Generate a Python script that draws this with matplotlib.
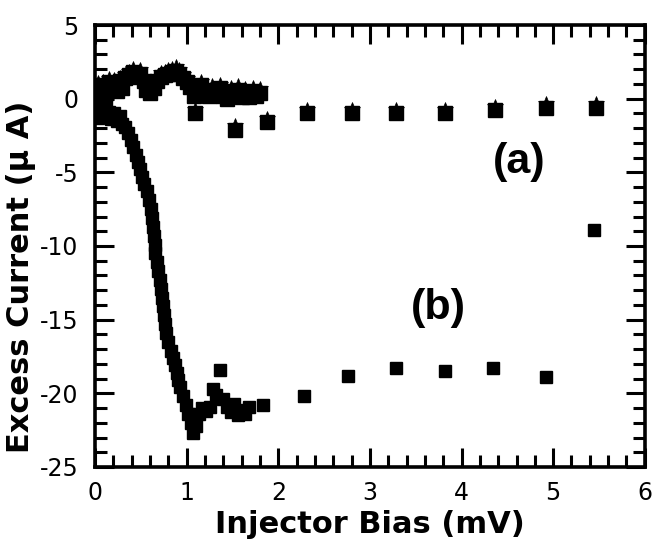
import matplotlib
matplotlib.use("Agg")
import matplotlib.pyplot as plt
import matplotlib.transforms as mtransforms
from matplotlib.ticker import MultipleLocator

plt.rcParams['axes.unicode_minus'] = False

# curve (a): squares with a star on top
a_x = [0.00, 0.00, 0.03, 0.06, 0.09, 0.12, 0.15, 0.18, 0.21, 0.24, 0.27, 0.30,
       0.33, 0.37, 0.41, 0.45, 0.49, 0.53, 0.56, 0.60, 0.64, 0.68, 0.72, 0.76,
       0.80, 0.84, 0.88, 0.92, 0.96, 1.00, 1.04, 1.08, 1.12, 1.16, 1.20, 1.24,
       1.28, 1.32, 1.36, 1.40, 1.44, 1.48, 1.52, 1.56, 1.60, 1.64, 1.68, 1.72,
       1.76, 1.80,
       1.09, 1.53, 1.88, 2.31, 2.80, 3.29, 3.82, 4.36, 4.92, 5.47]
a_y = [0.3, -0.6, 0.8, 0.1, 0.9, 0.4, 1.1, 0.6, 1.0, 0.5, 1.2, 0.7,
       1.4, 1.6, 1.8, 1.5, 1.7, 1.2, 0.6, 0.4, 0.7, 1.2, 1.5, 1.6,
       1.7, 1.8, 1.9, 1.7, 1.4, 1.1, 0.8, 0.2, 0.6, 0.9, 0.5, 0.2,
       0.6, 0.3, 0.7, 0.2, 0.0, 0.5, 0.2, 0.6, 0.1, 0.4, 0.1, 0.5,
       0.2, 0.4,
       -1.0, -2.1, -1.6, -1.0, -1.0, -1.0, -1.0, -0.8, -0.6, -0.6]

# curve (b): filled squares
b_x = [0.00, 0.03, 0.06, 0.09, 0.12, 0.15, 0.18, 0.21, 0.24, 0.27, 0.30, 0.33,
       0.36, 0.39, 0.42, 0.45, 0.47, 0.49, 0.51, 0.54, 0.57, 0.59, 0.61, 0.62,
       0.63, 0.64, 0.65, 0.66, 0.68, 0.69, 0.71, 0.72, 0.73, 0.74, 0.75, 0.76,
       0.78, 0.80, 0.83, 0.85, 0.87, 0.89, 0.91, 0.93, 0.96, 0.99, 1.02, 1.05,
       1.07, 1.10, 1.13, 1.17, 1.21, 1.25, 1.29, 1.32, 1.36, 1.40, 1.44, 1.48,
       1.52, 1.56, 1.60, 1.64, 1.68,
       1.83, 2.28, 2.76, 3.29, 3.82, 4.34, 4.92, 5.45]
b_y = [-0.9, -1.3, -0.7, -1.1, -0.5, -0.9, -1.4, -1.0, -1.5, -1.2, -1.7, -1.9,
       -2.3, -2.8, -3.3, -3.8, -4.3, -4.8, -5.3, -5.8, -6.3, -6.9, -7.5, -8.1,
       -8.7, -9.3, -9.9, -10.5, -11.1, -11.7, -12.3, -12.9, -13.5, -14.1, -14.7, -15.3,
       -15.9, -16.5, -17.1, -17.6, -18.1, -18.6, -19.1, -19.6, -20.2, -20.8, -21.4, -22.0,
       -22.7, -22.2, -21.4, -21.0, -21.2, -20.9, -19.7, -20.1, -18.4, -20.4, -20.9, -21.3,
       -20.7, -21.5, -21.1, -21.4, -20.9,
       -20.8, -20.2, -18.8, -18.3, -18.5, -18.3, -18.9, -8.9]

fig = plt.figure(figsize=(6.62, 5.39), dpi=100)
ax = fig.add_axes([0.1435, 0.1336, 0.8305, 0.82])

ax.plot(b_x, b_y, 's', color='black', ms=9, mew=1)
ax.plot(a_x, a_y, 's', color='black', ms=10, mew=1)
star_shift = ax.transData + mtransforms.ScaledTranslation(0, 2.5 / 72, fig.dpi_scale_trans)
ax.plot(a_x, a_y, '*', color='black', ms=12, mew=0.5, transform=star_shift)

ax.text(4.63, -4.3, '(a)', fontsize=31, fontweight='bold',
        family='Liberation Sans', ha='center', va='center')
ax.text(3.75, -14.2, '(b)', fontsize=31, fontweight='bold',
        family='Liberation Sans', ha='center', va='center')

ax.set_xlim(0, 6)
ax.set_ylim(-25, 5)
ax.xaxis.set_major_locator(MultipleLocator(1))
ax.xaxis.set_minor_locator(MultipleLocator(0.2))
ax.yaxis.set_major_locator(MultipleLocator(5))
ax.yaxis.set_minor_locator(MultipleLocator(1))
ax.tick_params(which='both', direction='in', top=True, right=True, width=2.2,
               labelsize=17)
ax.tick_params(which='major', length=14)
ax.tick_params(axis='x', which='major', pad=10)
ax.tick_params(axis='y', which='major', pad=12)
ax.tick_params(which='minor', length=8.5)
for s in ax.spines.values():
    s.set_linewidth(2.6)

ax.set_xlabel('Injector Bias (mV)', fontsize=22, fontweight='bold')
ax.set_ylabel('Excess Current (\u03bc A)', fontsize=22, fontweight='bold')
ax.xaxis.set_label_coords(0.5, -0.097)
ax.yaxis.set_label_coords(-0.108, 0.43)

fig.savefig('out.png', dpi=100)
